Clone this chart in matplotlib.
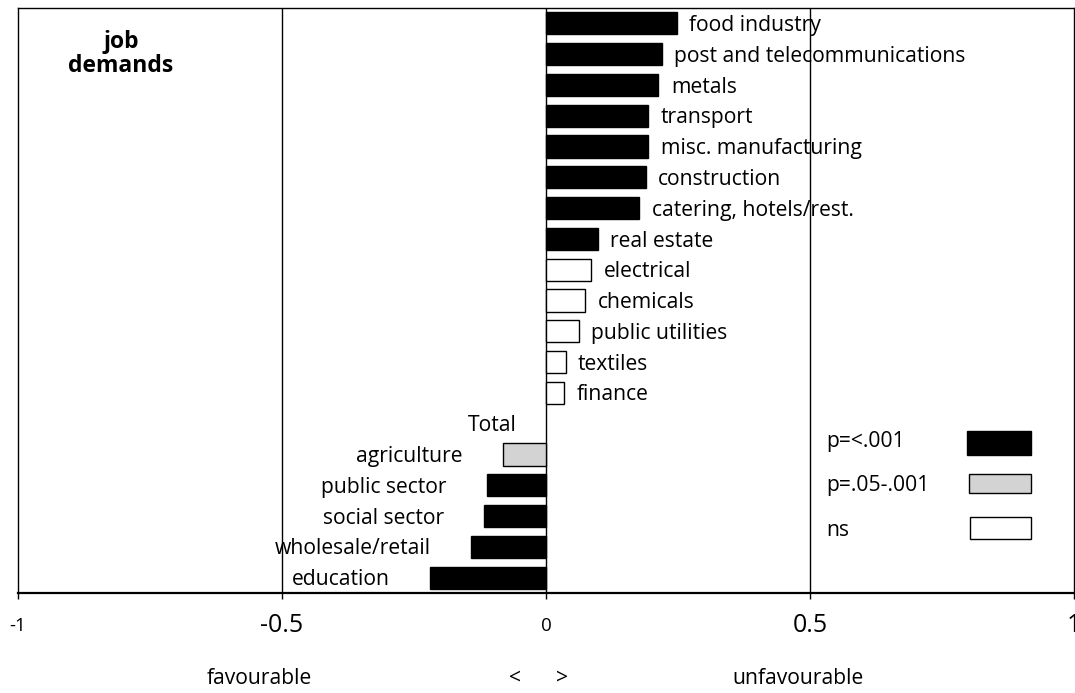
import matplotlib
matplotlib.use("Agg")
import matplotlib.pyplot as plt
from matplotlib.patches import Rectangle

plt.rcParams['font.family'] = ['Open Sans', 'DejaVu Sans']

# Sector effects on job demands (negative = favourable, positive = unfavourable)
sectors = [
    "food industry", "post and telecommunications", "metals", "transport",
    "misc. manufacturing", "construction", "catering, hotels/rest.",
    "real estate", "electrical", "chemicals", "public utilities",
    "textiles", "finance", "Total", "agriculture", "public sector",
    "social sector", "wholesale/retail", "education",
]
effects = [
    0.248, 0.219, 0.213, 0.194, 0.194, 0.189, 0.177,
    0.098, 0.085, 0.074, 0.062, 0.037, 0.035, 0.0,
    -0.081, -0.112, -0.117, -0.142, -0.219,
]
# significance class per sector: 's' p<.001, 'm' p=.05-.001, 'n' ns, '' none
significance = [
    's', 's', 's', 's', 's', 's', 's',
    's', 'n', 'n', 'n', 'n', 'n', '',
    'm', 's', 's', 's', 's',
]
legend_labels = ["p=<.001", "p=.05-.001", "ns"]
tick_values = [-1, -0.5, 0, 0.5, 1]
tick_labels = ["-1", "-0.5", "0", "0.5", "1"]

fill_for = {'s': 'black', 'm': '#d3d3d3', 'n': 'white', '': 'white'}
FS = 15.2

W, H = 1075, 693
fig = plt.figure(figsize=(W / 100, H / 100), dpi=100)
ax = fig.add_axes([18 / W, 1 - 593 / H, (1074 - 18) / W, (593 - 8) / H])

ypos = list(range(len(sectors)))
for y, v, s in zip(ypos, effects, significance):
    if s == '':
        continue
    ax.barh(y, v, height=0.72, color=fill_for[s], edgecolor='black',
            linewidth=1.0, zorder=3)

# sector labels beside the bars
for y, v, name in zip(ypos, effects, sectors):
    if v > 0:
        ax.annotate(name, (v, y), xytext=(9, -1.5), textcoords='offset points',
                    ha='left', va='center', fontsize=FS)
    elif v < 0:
        ax.annotate(name, (v, y), xytext=(-29, -1.5), textcoords='offset points',
                    ha='right', va='center', fontsize=FS)
    else:
        ax.annotate(name, (v, y), xytext=(-21, -1.5), textcoords='offset points',
                    ha='right', va='center', fontsize=FS)

ax.set_xlim(-1, 1)
ax.set_ylim(len(sectors) - 0.5, -0.5)

for xv in (-0.5, 0, 0.5):
    ax.axvline(xv, color='black', linewidth=1.0, zorder=2)

for sp in ax.spines.values():
    sp.set_linewidth(1.0)
ax.spines['bottom'].set_linewidth(1.6)

ax.set_yticks([])
ax.set_xticks(tick_values)
ax.set_xticklabels(tick_labels)
ax.tick_params(axis='x', direction='out', length=4.5, width=1.0, pad=19)
for lbl, tv in zip(ax.get_xticklabels(), tick_values):
    lbl.set_va('center')
    if tv in (-1, 0):
        lbl.set_fontsize(13.5)
    else:
        lbl.set_fontsize(18)

# panel title
ax.text(121 / W, 1 - 54 / H, "job\ndemands", transform=fig.transFigure,
        ha='center', va='center', fontsize=16.5, fontweight='bold',
        linespacing=1.0)

# significance key
key_boxes = [(967, 431, 1031, 455), (969, 474, 1031, 493), (970, 517, 1031, 539)]
key_text_y = [442, 486, 530]
for lab, s, (x0, y0, x1, y1), ty in zip(legend_labels, ['s', 'm', 'n'],
                                        key_boxes, key_text_y):
    fig.patches.append(Rectangle((x0 / W, 1 - y1 / H), (x1 - x0) / W,
                                 (y1 - y0) / H, transform=fig.transFigure,
                                 facecolor=fill_for[s], edgecolor='black',
                                 linewidth=1.0))
    fig.text(826 / W, 1 - ty / H, lab, ha='left', va='center', fontsize=FS)

# direction captions under the axis
fig.text(259 / W, 1 - 678 / H, "favourable", ha='center', va='center', fontsize=FS)
fig.text(515 / W, 1 - 678 / H, "<", ha='center', va='center', fontsize=FS)
fig.text(562 / W, 1 - 678 / H, ">", ha='center', va='center', fontsize=FS)
fig.text(798 / W, 1 - 678 / H, "unfavourable", ha='center', va='center', fontsize=FS)

fig.savefig("out.png", dpi=100)
